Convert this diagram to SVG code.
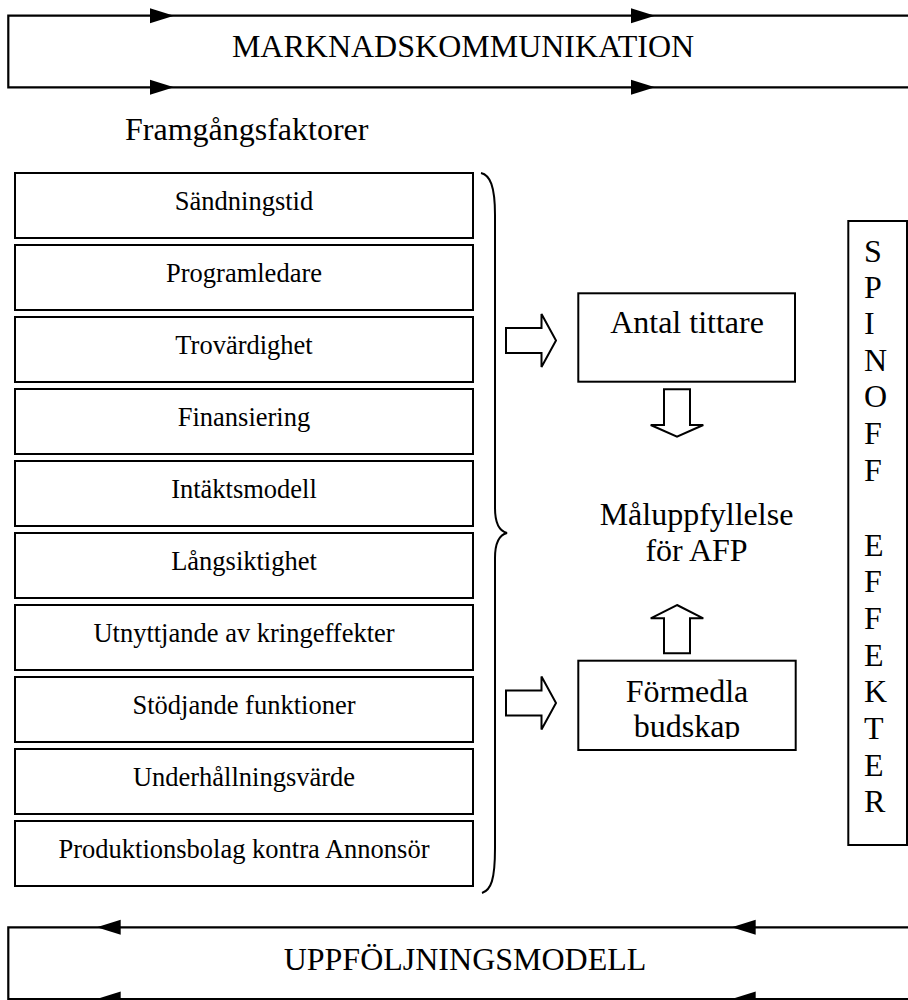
<svg xmlns="http://www.w3.org/2000/svg" xmlns:xlink="http://www.w3.org/1999/xlink" width="908" height="1000" viewBox="0 0 908 1000">
  <style>
    text { font-family: "Liberation Serif", "Times New Roman", serif; fill: #000; }
    .title { font-size: 32px; }
    .big { font-size: 32px; text-anchor: middle; }
    .lbl { font-size: 26.5px; text-anchor: middle; }
    .letter { font-size: 32px; }
    .box { fill: #fff; stroke: #000; stroke-width: 2; }
    .rail { fill: none; stroke: #000; stroke-width: 2.2; }
    .block { fill: #fff; stroke: #000; stroke-width: 2; stroke-linejoin: miter; }
    .brace { fill: none; stroke: #000; stroke-width: 2; }
    .head { fill: #000; stroke: none; }
  </style>
  <defs>
    <!-- filled arrowheads used on the rails, tip at origin -->
    <path id="headRight" d="M0 0 L-24 -7.5 L-24 7.5 Z"/>
    <path id="headLeft" d="M0 0 L24 -7.5 L24 7.5 Z"/>
    <!-- hollow block arrows -->
    <path id="blockRight" d="M-50 -12.5 L-14.5 -12.5 L-14.5 -26.5 L0 0 L-14.5 26.5 L-14.5 12.5 L-50 12.5 Z"/>
    <clipPath id="budskapClip">
      <rect x="578" y="660" width="218" height="79"/>
    </clipPath>
  </defs>

  <!-- top rail: market communication -->
  <g id="marknadskommunikation">
    <path class="rail" d="M908 15.7 H8.3 V87.3 H908"/>
    <use href="#headRight" class="head" x="174" y="15.7"/>
    <use href="#headRight" class="head" x="655" y="15.7"/>
    <use href="#headRight" class="head" x="174" y="87.3"/>
    <use href="#headRight" class="head" x="655" y="87.3"/>
    <text class="big" x="463" y="57">MARKNADSKOMMUNIKATION</text>
  </g>

  <g id="framgangsfaktorer-rubrik">
    <text class="title" x="125" y="140">Framgångsfaktorer</text>
  </g>

  <!-- success factors -->
  <g id="faktor-1"><rect class="box" x="15" y="173" width="458" height="65"/><text class="lbl" x="244" y="210">Sändningstid</text></g>
  <g id="faktor-2"><rect class="box" x="15" y="245" width="458" height="65"/><text class="lbl" x="244" y="282">Programledare</text></g>
  <g id="faktor-3"><rect class="box" x="15" y="317" width="458" height="65"/><text class="lbl" x="244" y="354">Trovärdighet</text></g>
  <g id="faktor-4"><rect class="box" x="15" y="389" width="458" height="65"/><text class="lbl" x="244" y="426">Finansiering</text></g>
  <g id="faktor-5"><rect class="box" x="15" y="461" width="458" height="65"/><text class="lbl" x="244" y="498">Intäktsmodell</text></g>
  <g id="faktor-6"><rect class="box" x="15" y="533" width="458" height="65"/><text class="lbl" x="244" y="570">Långsiktighet</text></g>
  <g id="faktor-7"><rect class="box" x="15" y="605" width="458" height="65"/><text class="lbl" x="244" y="642">Utnyttjande av kringeffekter</text></g>
  <g id="faktor-8"><rect class="box" x="15" y="677" width="458" height="65"/><text class="lbl" x="244" y="714">Stödjande funktioner</text></g>
  <g id="faktor-9"><rect class="box" x="15" y="749" width="458" height="65"/><text class="lbl" x="244" y="786">Underhållningsvärde</text></g>
  <g id="faktor-10"><rect class="box" x="15" y="821" width="458" height="65"/><text class="lbl" x="244" y="858">Produktionsbolag kontra Annonsör</text></g>

  <g id="klammer">
    <path class="brace" d="M481 173 C490 175 495 186 495 215 L495 508 C495 524 499 531 507 533 C499 535 495 542 495 558 L495 848 C495 880 491 890 482 893"/>
  </g>

  <g id="antal-tittare">
    <rect class="box" x="578.3" y="293.3" width="216.7" height="88.4"/>
    <text class="big" x="687" y="333">Antal tittare</text>
  </g>

  <g id="maluppfyllelse">
    <text class="big" x="696.5" y="525">Måluppfyllelse</text>
    <text class="big" x="696.5" y="561">för AFP</text>
  </g>

  <g id="formedla-budskap">
    <rect class="box" x="578.3" y="660.7" width="217.4" height="89.3"/>
    <g clip-path="url(#budskapClip)">
      <text class="big" x="687" y="702">Förmedla</text>
      <text class="big" x="687" y="737">budskap</text>
    </g>
  </g>

  <g id="spinoff-effekter">
    <rect class="box" x="848.3" y="221" width="58.7" height="624"/>
    <text class="letter" x="864" y="262">S</text>
    <text class="letter" x="864" y="298">P</text>
    <text class="letter" x="864" y="334">I</text>
    <text class="letter" x="864" y="371">N</text>
    <text class="letter" x="864" y="407">O</text>
    <text class="letter" x="864" y="444">F</text>
    <text class="letter" x="864" y="481">F</text>
    <text class="letter" x="864" y="556">E</text>
    <text class="letter" x="864" y="592">F</text>
    <text class="letter" x="864" y="629">F</text>
    <text class="letter" x="864" y="666">E</text>
    <text class="letter" x="864" y="702">K</text>
    <text class="letter" x="864" y="739">T</text>
    <text class="letter" x="864" y="776">E</text>
    <text class="letter" x="864" y="812">R</text>
  </g>

  <!-- bottom rail: follow-up model -->
  <g id="uppfoljningsmodell">
    <path class="rail" d="M908 927.3 H8.3 V999 H908"/>
    <use href="#headLeft" class="head" x="96.7" y="927.3"/>
    <use href="#headLeft" class="head" x="731.7" y="927.3"/>
    <use href="#headLeft" class="head" x="96.7" y="999"/>
    <use href="#headLeft" class="head" x="731.7" y="999"/>
    <text class="big" x="465" y="970">UPPFÖLJNINGSMODELL</text>
  </g>

  <!-- connectors: hollow block arrows -->
  <g id="connectors">
    <use href="#blockRight" class="block" x="556" y="340.5"/>
    <use href="#blockRight" class="block" x="556" y="703"/>
    <path class="block" d="M664 389.3 L690 389.3 L690 425 L703.3 425 L677 436.7 L650.7 425 L664 425 Z"/>
    <path class="block" d="M677 605 L703.3 618.3 L690 618.3 L690 653.3 L664 653.3 L664 618.3 L650.7 618.3 Z"/>
  </g>
</svg>
